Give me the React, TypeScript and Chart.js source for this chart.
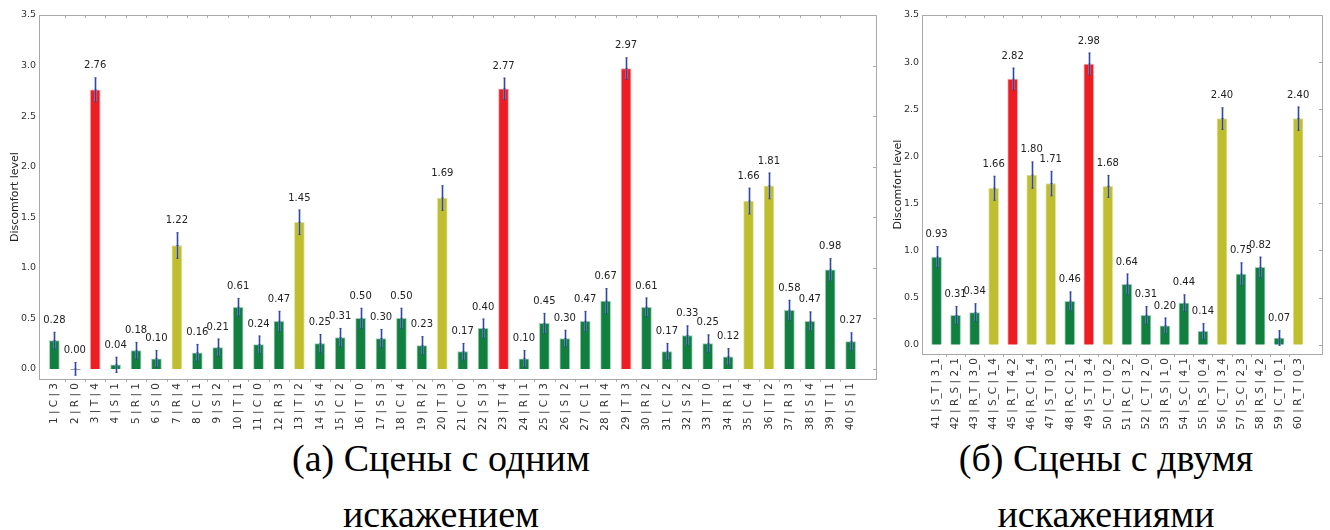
import React, { useEffect, useRef } from "react";
import { Chart, registerables } from "chart.js";

Chart.register(...registerables);

// ---------- data ----------
const leftLabels = [
  "1 | C | 3", "2 | R | 0", "3 | T | 4", "4 | S | 1", "5 | R | 1", "6 | S | 0", "7 | R | 4", "8 | C | 1",
  "9 | S | 2", "10 | T | 1", "11 | C | 0", "12 | R | 3", "13 | T | 2", "14 | S | 4", "15 | C | 2", "16 | T | 0",
  "17 | S | 3", "18 | C | 4", "19 | R | 2", "20 | T | 3", "21 | C | 0", "22 | S | 3", "23 | T | 4", "24 | R | 1",
  "25 | C | 3", "26 | S | 2", "27 | C | 1", "28 | R | 4", "29 | T | 3", "30 | R | 2", "31 | C | 2", "32 | S | 2",
  "33 | T | 0", "34 | R | 1", "35 | C | 4", "36 | T | 2", "37 | R | 3", "38 | S | 4", "39 | T | 1", "40 | S | 1",
];
const leftValues = [
  0.28, 0.0, 2.76, 0.04, 0.18, 0.1, 1.22, 0.16, 0.21, 0.61,
  0.24, 0.47, 1.45, 0.25, 0.31, 0.5, 0.3, 0.5, 0.23, 1.69,
  0.17, 0.4, 2.77, 0.1, 0.45, 0.3, 0.47, 0.67, 2.97, 0.61,
  0.17, 0.33, 0.25, 0.12, 1.66, 1.81, 0.58, 0.47, 0.98, 0.27,
];
const leftErrors = [
  0.082, 0.063, 0.119, 0.076, 0.082, 0.081, 0.127, 0.082, 0.086, 0.087,
  0.086, 0.1, 0.122, 0.09, 0.09, 0.1, 0.09, 0.1, 0.089, 0.122,
  0.082, 0.094, 0.107, 0.081, 0.099, 0.082, 0.099, 0.124, 0.107, 0.092,
  0.082, 0.096, 0.087, 0.081, 0.128, 0.128, 0.099, 0.094, 0.11, 0.087,
];
const leftKinds = [
  "g", "g", "r", "g", "g", "g", "o", "g", "g", "g",
  "g", "g", "o", "g", "g", "g", "g", "g", "g", "o",
  "g", "g", "r", "g", "g", "g", "g", "g", "r", "g",
  "g", "g", "g", "g", "o", "o", "g", "g", "g", "g",
];

const rightLabels = [
  "41 | S_T | 3_1", "42 | R_S | 2_1", "43 | R_T | 3_0", "44 | S_C | 1_4", "45 | R_T | 4_2",
  "46 | R_C | 1_4", "47 | S_T | 0_3", "48 | R_C | 2_1", "49 | S_T | 3_4", "50 | C_T | 0_2",
  "51 | R_C | 3_2", "52 | C_T | 2_0", "53 | R_S | 1_0", "54 | S_C | 4_1", "55 | R_S | 0_4",
  "56 | C_T | 3_4", "57 | S_C | 2_3", "58 | R_S | 4_2", "59 | C_T | 0_1", "60 | R_T | 0_3",
];
const rightValues = [
  0.93, 0.31, 0.34, 1.66, 2.82, 1.8, 1.71, 0.46, 2.98, 1.68,
  0.64, 0.31, 0.2, 0.44, 0.14, 2.4, 0.75, 0.82, 0.07, 2.4,
];
const rightErrors = [
  0.11, 0.094, 0.094, 0.128, 0.117, 0.14, 0.13, 0.1, 0.117, 0.117,
  0.11, 0.094, 0.083, 0.089, 0.083, 0.115, 0.119, 0.11, 0.078, 0.124,
];
const rightKinds = [
  "g", "g", "g", "o", "r", "o", "o", "g", "r", "o",
  "g", "g", "g", "g", "g", "o", "g", "g", "g", "o",
];

const yTickValues = [0, 0.5, 1.0, 1.5, 2.0, 2.5, 3.0, 3.5];
const yTitle = "Discomfort level";
const captionLeft = ["(а) Сцены с одним", "искажением"];
const captionRight = ["(б) Сцены с двумя", "искажениями"];

// ---------- styles ----------
const FILL: Record<string, string> = { g: "#107f40", r: "#ee1d23", o: "#bebe2e" };
const EDGE: Record<string, string> = {
  g: "rgba(150,205,170,0.9)",
  r: "rgba(250,165,165,0.9)",
  o: "rgba(225,225,150,0.9)",
};
const AXIS = "#a9a9a9";
const FONT = "'DejaVu Sans', Verdana, sans-serif";

type PanelProps = {
  labels: string[];
  values: number[];
  errors: number[];
  kinds: string[];
  left: number;
  width: number;
  height: number;
  axisBottom: number;
  padRight: number;
};

function Panel(p: PanelProps) {
  const ref = useRef<HTMLCanvasElement>(null);
  useEffect(() => {
    const errs = p.errors;
    const decor = {
      id: "decor",
      afterDatasetsDraw(chart: any) {
        const ctx = chart.ctx as CanvasRenderingContext2D;
        const { left, right, top, bottom } = chart.chartArea;
        const xs = chart.scales.x;
        const ys = chart.scales.y;
        ctx.save();
        // frame (top + right)
        ctx.strokeStyle = AXIS;
        ctx.lineWidth = 1;
        ctx.beginPath();
        ctx.moveTo(left, Math.round(top) + 0.5);
        ctx.lineTo(Math.round(right) + 0.5, Math.round(top) + 0.5);
        ctx.lineTo(Math.round(right) + 0.5, bottom);
        ctx.stroke();
        // minor ticks between categories (top inward, bottom outward)
        ctx.beginPath();
        for (let i = 0; i < p.labels.length - 1; i++) {
          const px = Math.round(xs.getPixelForValue(i + 0.5)) + 0.5;
          ctx.moveTo(px, top);
          ctx.lineTo(px, top + 3);
          ctx.moveTo(px, bottom);
          ctx.lineTo(px, bottom + 3);
        }
        for (const t of yTickValues) {
          const py = Math.round(ys.getPixelForValue(t)) + 0.5;
          ctx.moveTo(right - 3, py);
          ctx.lineTo(right, py);
        }
        ctx.stroke();

        // error bars + value labels
        const meta = chart.getDatasetMeta(0);
        meta.data.forEach((el: any, i: number) => {
          const v = p.values[i];
          const e = errs[i];
          const x = Math.round(el.x) + 0.5;
          const yT = ys.getPixelForValue(v + e);
          const yB = ys.getPixelForValue(v - e);
          const yM = ys.getPixelForValue(v);
          if (v === 0) {
            ctx.strokeStyle = "rgba(120,130,150,0.8)";
            ctx.lineWidth = 1;
            ctx.beginPath();
            ctx.moveTo(x - 5, Math.round(yM) + 0.5);
            ctx.lineTo(x + 5, Math.round(yM) + 0.5);
            ctx.stroke();
          }
          ctx.strokeStyle = "rgba(120,145,215,0.5)";
          ctx.lineWidth = 3;
          ctx.beginPath();
          ctx.moveTo(x, yT);
          ctx.lineTo(x, yB);
          ctx.stroke();
          ctx.strokeStyle = "rgba(45,65,150,0.95)";
          ctx.lineWidth = 1;
          ctx.beginPath();
          ctx.moveTo(x, yT);
          ctx.lineTo(x, yB);
          ctx.moveTo(x - 1, yT);
          ctx.lineTo(x + 1, yT);
          ctx.moveTo(x - 1, yB);
          ctx.lineTo(x + 1, yB);
          ctx.moveTo(x - 1, yM);
          ctx.lineTo(x + 1, yM);
          ctx.stroke();

          ctx.fillStyle = "#222";
          ctx.font = `10px ${FONT}`;
          ctx.textAlign = "center";
          ctx.textBaseline = "middle";
          ctx.fillText(v.toFixed(2), el.x, yT - 12);
        });
        ctx.restore();
      },
    };

    const n = p.labels.length;
    const chart = new Chart(ref.current!, {
      type: "bar",
      data: {
        datasets: [
          {
            data: p.values.map((v, i) => ({ x: i, y: v })),
            backgroundColor: p.kinds.map((k) => FILL[k]),
            borderColor: p.kinds.map((k) => EDGE[k]),
            borderWidth: 1,
            barThickness: 10,
          } as any,
        ],
      },
      options: {
        responsive: false,
        animation: false,
        devicePixelRatio: 1,
        layout: { padding: { top: 15, right: p.padRight, left: 0, bottom: 0 } },
        plugins: { legend: { display: false }, tooltip: { enabled: false } },
        scales: {
          x: {
            type: "linear",
            min: -0.24,
            max: n - 1 + 0.73,
            grid: { display: false, drawTicks: false },
            border: { display: true, color: AXIS },
            afterBuildTicks: (scale: any) => {
              scale.ticks = p.labels.map((_, i) => ({ value: i }));
            },
            afterFit: (scale: any) => {
              scale.height = p.height - p.axisBottom;
            },
            ticks: {
              autoSkip: false,
              minRotation: 90,
              maxRotation: 90,
              padding: 4,
              color: "#333",
              font: { family: FONT, size: 10.5 },
              callback: (val: any) => p.labels[Math.round(Number(val))] ?? "",
            },
          },
          y: {
            type: "linear",
            min: -0.1,
            max: 3.5,
            grid: { display: false, drawTicks: false },
            border: { display: true, color: AXIS },
            afterBuildTicks: (scale: any) => {
              scale.ticks = yTickValues.map((v) => ({ value: v }));
            },
            afterFit: (scale: any) => {
              scale.width = 39;
            },
            title: {
              display: true,
              text: yTitle,
              color: "#222",
              font: { family: FONT, size: 11 },
              padding: { top: 9, bottom: 0 },
            },
            ticks: {
              padding: 3,
              color: "#333",
              font: { family: FONT, size: 9.5 },
              callback: (val: any) => Number(val).toFixed(1),
            },
          },
        },
      },
      plugins: [decor as any],
    });
    return () => chart.destroy();
  }, []);
  return (
    <canvas
      ref={ref}
      width={p.width}
      height={p.height}
      style={{ position: "absolute", left: p.left, top: 0, width: p.width, height: p.height }}
    />
  );
}

const captionStyle: React.CSSProperties = {
  position: "absolute",
  top: 430,
  width: 600,
  textAlign: "center",
  fontFamily: "'Liberation Serif', 'Times New Roman', serif",
  fontSize: 38,
  lineHeight: "56px",
  color: "#000",
  whiteSpace: "nowrap",
};

export default function App() {
  return (
    <div
      style={{
        position: "fixed",
        left: 0,
        top: 0,
        width: 1330,
        height: 530,
        background: "#fff",
        overflow: "hidden",
      }}
    >
      <Panel
        labels={leftLabels}
        values={leftValues}
        errors={leftErrors}
        kinds={leftKinds}
        left={0}
        width={880}
        height={430}
        axisBottom={379}
        padRight={4}
      />
      <Panel
        labels={rightLabels}
        values={rightValues}
        errors={rightErrors}
        kinds={rightKinds}
        left={883}
        width={447}
        height={430}
        axisBottom={354}
        padRight={8}
      />
      <div style={{ ...captionStyle, left: 441 - 300 }}>
        {captionLeft[0]}
        <br />
        {captionLeft[1]}
      </div>
      <div style={{ ...captionStyle, left: 1106 - 300 }}>
        {captionRight[0]}
        <br />
        {captionRight[1]}
      </div>
    </div>
  );
}
